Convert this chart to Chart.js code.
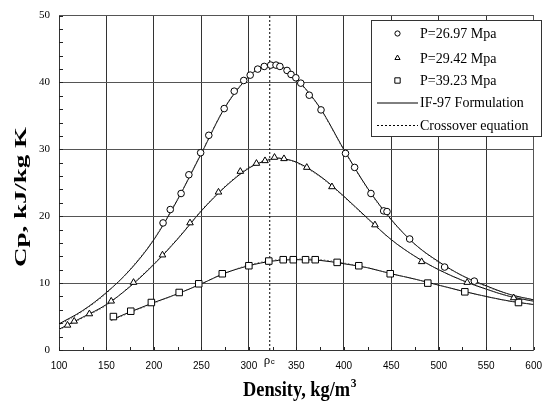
<!DOCTYPE html>
<html><head><meta charset="utf-8">
<script src="https://cdn.jsdelivr.net/npm/chart.js@4"></script>
<style>html,body{margin:0;padding:0;background:#fff}#wrap{width:552px;height:402px;position:relative}</style>
</head><body>
<div id="wrap"><canvas id="c"></canvas></div>
<script>
// ---- data ----
const xTicks = [100,150,200,250,300,350,400,450,500,550,600];
const yTicks = [0,10,20,30,40,50];
const rhoC = 322;
const seriesLabels = ['P=26.97 Mpa','P=29.42 Mpa','P=39.23 Mpa','IF-97 Formulation','Crossover equation'];

// measured points
const p1X = [209.6,217.2,228.6,236.8,249.2,257.8,274,284.6,294.6,301.4,309.3,316.2,323,328.6,332.7,340.2,344.4,349.5,354.7,363.6,376,401.8,411.4,428.6,442,445.5,469.4,506.2,537.5];
const p1Y = [19.0,21.0,23.4,26.2,29.5,32.1,36.1,38.7,40.3,41.1,42.0,42.4,42.6,42.6,42.4,41.8,41.2,40.7,39.9,38.1,35.9,29.4,27.3,23.4,20.8,20.7,16.6,12.4,10.3];
const p2X = [109,116,132,155,178.5,209,238,268,291,308,317,327,337,361,387.5,432.8,482,530,579];
const p2Y = [3.7,4.3,5.4,7.3,10.1,14.2,19.0,23.6,26.7,27.9,28.3,28.8,28.6,27.3,24.4,18.7,13.2,10.1,7.8];
const p3X = [157.3,175.6,197.3,226.6,247.2,272,300,321,336.2,346.8,359.7,369.9,393,415.8,448.9,488.5,527.5,584];
const p3Y = [5.0,5.8,7.1,8.6,9.9,11.4,12.6,13.3,13.5,13.5,13.5,13.5,13.1,12.6,11.4,10.0,8.7,7.1];

// IF-97 curves
const curveX = [100,125,150,175,200,225,250,275,300,310,320,330,340,350,375,400,425,450,475,500,525,550,575,600];
const if1Y = [3.9,5.9,8.6,12.0,16.5,22.5,29.4,36.3,40.9,42.0,42.5,42.6,41.9,40.6,36.2,30.0,24.2,19.5,15.8,13.2,11.1,9.6,8.3,7.5];
const if2Y = [3.1,4.9,6.8,9.5,12.8,16.6,20.8,24.4,27.2,27.9,28.4,28.7,28.5,28.1,26.0,23.0,19.7,16.5,14.0,12.0,10.4,9.1,8.0,7.3];
const curve3X = [155,175,200,225,250,275,300,325,350,375,400,425,450,475,500,525,550,575,600];
const if3Y = [4.5,5.7,7.1,8.4,9.9,11.5,12.6,13.3,13.5,13.4,12.9,12.3,11.4,10.6,9.7,8.8,8.0,7.3,6.8];
// crossover curves (nearly coincident)
const co1Y = [3.7,5.8,8.5,12.1,16.6,22.6,29.5,36.4,41.0,42.1,42.6,42.6,41.8,40.5,36.1,29.9,24.1,19.4,15.8,13.1,11.1,9.5,8.3,7.5];
const co2Y = [3.0,4.8,6.7,9.6,12.9,16.7,20.9,24.5,27.3,28.0,28.5,28.7,28.5,28.0,25.9,22.9,19.6,16.5,14.0,12.0,10.4,9.1,8.0,7.3];
const co3Y = [4.4,5.6,7.0,8.4,9.9,11.5,12.7,13.4,13.6,13.5,13.0,12.3,11.4,10.6,9.7,8.8,8.0,7.3,6.8];

const pts = (xs, ys) => xs.map((x, i) => ({x, y: ys[i]}));

// ---- plugins ----
const FONT_SERIF = '"Liberation Serif","Times New Roman",serif';
const FONT_SANS = '"Liberation Sans",Arial,sans-serif';

const decor = {
  id: 'decor',
  beforeDatasetsDraw(chart) {
    const {ctx, chartArea: a, scales: {x, y}} = chart;
    ctx.save();
    ctx.strokeStyle = '#222';
    ctx.lineWidth = 1;
    for (let v = 100; v <= 600; v += 25) {
      const px = Math.round(x.getPixelForValue(v)) + 0.5;
      ctx.beginPath(); ctx.moveTo(px, a.bottom); ctx.lineTo(px, a.bottom - 3); ctx.stroke();
    }
    for (let v = 0; v <= 50; v += 2) {
      const py = Math.round(y.getPixelForValue(v)) + 0.5;
      ctx.beginPath(); ctx.moveTo(a.left, py); ctx.lineTo(a.left + 4, py); ctx.stroke();
    }
    ctx.restore();
  },
  afterDraw(chart) {
    const {ctx, chartArea: a, scales: {x}} = chart;
    ctx.save();
    ctx.fillStyle = '#000';
    ctx.textAlign = 'left'; ctx.textBaseline = 'alphabetic';
    const pc = x.getPixelForValue(rhoC);
    ctx.font = '13px ' + FONT_SERIF;
    ctx.fillText('\u03C1', pc - 6, a.bottom + 14);
    ctx.font = '8px ' + FONT_SANS;
    ctx.fillText('c', pc + 1, a.bottom + 14);
    // x title (slightly tall glyphs like the source)
    ctx.save();
    ctx.font = 'bold 16px ' + FONT_SERIF;
    const t = 'Density, kg/m';
    const w = ctx.measureText(t).width;
    const total = w + 6;
    const sx = 114 / total;
    ctx.translate(300, 396);
    ctx.scale(sx, 1.3);
    ctx.textAlign = 'left';
    ctx.fillText(t, -total / 2, 0);
    ctx.font = 'bold 10px ' + FONT_SERIF;
    ctx.fillText('3', -total / 2 + w + 0.5, -7);
    ctx.restore();
    // y title
    ctx.save();
    ctx.translate(22, 197);
    ctx.rotate(-Math.PI / 2);
    ctx.font = 'bold 16px ' + FONT_SERIF;
    const yt = 'Cp, kJ/kg K';
    const yw = ctx.measureText(yt).width;
    ctx.scale(140 / yw, 1.0);
    ctx.textAlign = 'center'; ctx.textBaseline = 'middle';
    ctx.fillText(yt, 0, 0);
    ctx.restore();
    ctx.restore();

    // legend
    ctx.save();
    const L = 371.5, T = 20.5, R = 541.5, B = 136.5;
    ctx.fillStyle = '#fff';
    ctx.fillRect(L, T, R - L, B - T);
    ctx.strokeStyle = '#333'; ctx.lineWidth = 1;
    ctx.strokeRect(L, T, R - L, B - T);
    const rows = [33.5, 58, 80.5, 102.5, 125];
    const styles = ['circle', 'triangle', 'rect'];
    const radii = [2.6, 3, 3.8];
    ctx.textAlign = 'left'; ctx.textBaseline = 'middle';
    for (let i = 0; i < 5; i++) {
      const ry = rows[i];
      ctx.font = '14px ' + FONT_SERIF;
      ctx.fillStyle = '#000';
      ctx.fillText(seriesLabels[i], 420, ry + 1);
      if (i < 3) {
        ctx.fillStyle = '#fff';
        ctx.strokeStyle = '#000';
        ctx.lineWidth = 1;
        Chart.helpers.drawPoint(ctx, {pointStyle: styles[i], radius: radii[i], borderWidth: 1}, 397.5, ry);
      } else {
        ctx.strokeStyle = '#000';
        ctx.lineWidth = 1;
        ctx.setLineDash(i === 4 ? [2, 2] : []);
        ctx.beginPath(); ctx.moveTo(377, ry + 0.5); ctx.lineTo(418, ry + 0.5); ctx.stroke();
        ctx.setLineDash([]);
      }
    }
    ctx.restore();
  }
};

const markerDs = (label, xs, ys, style, r) => ({
  label, type: 'scatter', data: pts(xs, ys), showLine: false,
  pointStyle: style, pointRadius: r, pointHoverRadius: r,
  pointBackgroundColor: '#fff', pointBorderColor: '#000', pointBorderWidth: 1, order: 0
});
const lineDs = (label, xs, ys, dash, order) => ({
  label, type: 'line', data: pts(xs, ys), showLine: true,
  borderColor: dash ? '#555' : '#000', borderWidth: 1, borderDash: dash ? [1.5, 2] : [],
  pointRadius: 0, cubicInterpolationMode: 'monotone', fill: false, order
});

new Chart(document.getElementById('c'), {
  type: 'scatter',
  data: {
    datasets: [
      markerDs(seriesLabels[0], p1X, p1Y, 'circle', 3.3),
      markerDs(seriesLabels[1], p2X, p2Y, 'triangle', 3.8),
      markerDs(seriesLabels[2], p3X, p3Y, 'rect', 4.6),
      lineDs(seriesLabels[3], curveX, if1Y, false, 2),
      lineDs(seriesLabels[3], curveX, if2Y, false, 2),
      lineDs(seriesLabels[3], curve3X, if3Y, false, 2),
      lineDs(seriesLabels[4], curveX, co1Y, true, 1),
      lineDs(seriesLabels[4], curveX, co2Y, true, 1),
      lineDs(seriesLabels[4], curve3X, co3Y, true, 1),
      {label: 'rho_c', type: 'line', data: [{x: rhoC, y: 0}, {x: rhoC, y: 50}], borderColor: '#000',
       borderWidth: 1, borderDash: [2, 2], pointRadius: 0, order: 3}
    ]
  },
  options: {
    responsive: true, maintainAspectRatio: false, animation: false,
    layout: {padding: {left: 0, top: 13, right: 9, bottom: 0}},
    plugins: {legend: {display: false}, tooltip: {enabled: false}},
    scales: {
      x: {
        type: 'linear', min: 100, max: 600,
        afterBuildTicks: s => { s.ticks = xTicks.map(v => ({value: v})); },
        afterFit: s => { s.height = 52; },
        grid: {color: '#333', lineWidth: 1, drawTicks: false},
        border: {color: '#333', width: 1},
        ticks: {padding: 10, color: '#000', font: {family: FONT_SANS, size: 10}, maxRotation: 0}
      },
      y: {
        type: 'linear', min: 0, max: 50,
        afterBuildTicks: s => { s.ticks = yTicks.map(v => ({value: v})); },
        afterFit: s => { s.width = 59; },
        grid: {color: '#555', lineWidth: 1, drawTicks: false},
        border: {color: '#333', width: 1},
        ticks: {padding: 9, color: '#000', font: {family: FONT_SERIF, size: 11}}
      },
      x2: {type: 'linear', position: 'top', min: 100, max: 600, display: true,
        grid: {display: false}, ticks: {display: false}, border: {color: '#555', width: 1},
        afterFit: s => { s.height = 0; }},
      y2: {type: 'linear', position: 'right', min: 0, max: 50, display: true,
        grid: {display: false}, ticks: {display: false}, border: {color: '#555', width: 1},
        afterFit: s => { s.width = 0; }}
    }
  },
  plugins: [decor]
});
</script>
</body></html>
